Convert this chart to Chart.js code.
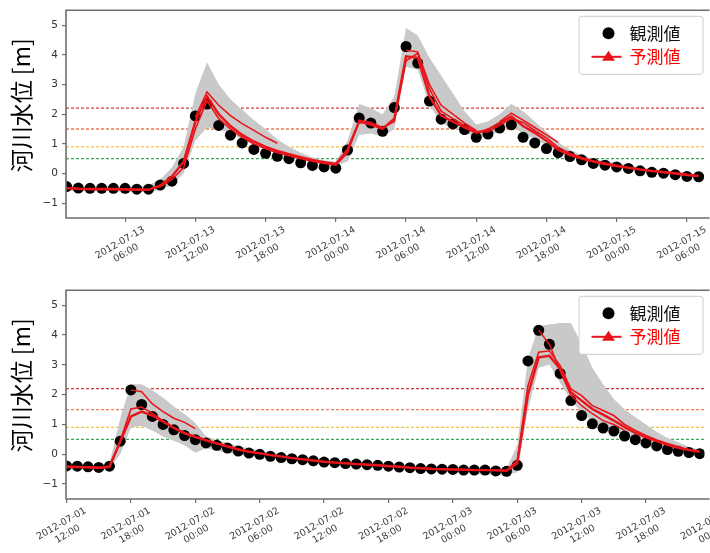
<!DOCTYPE html>
<html>
<head>
<meta charset="utf-8">
<script src="https://cdn.jsdelivr.net/npm/chart.js@4/dist/chart.umd.min.js"></script>
<style>
  html, body { margin: 0; padding: 0; background: #fff; overflow: hidden; }
  canvas { display: block; }
</style>
</head>
<body>
<canvas id="topChart" width="710" height="280"></canvas>
<canvas id="bottomChart" width="710" height="273"></canvas>
<script>
// 共通の目盛りと警戒水位
const yTickValues = [-1, 0, 1, 2, 3, 4, 5];
const levelValues = [2.2, 1.5, 0.9, 0.5];
const levelColors = ['#d43c3c', '#f07850', '#f5c040', '#3aaa5a'];

// ---- 上段: 2012-07-13 01:00 から1時間ごと (時間は 07-13 00:00 からの経過時間) ----
const topStart = 1;
const topObs = [
  -0.44, -0.49, -0.5, -0.5, -0.5, -0.5, -0.53, -0.53, -0.39, -0.26,
  0.34, 1.94, 2.34, 1.62, 1.29, 1.03, 0.81, 0.68, 0.58, 0.5,
  0.36, 0.27, 0.22, 0.18, 0.79, 1.87, 1.70, 1.42, 2.22, 4.28,
  3.72, 2.44, 1.83, 1.67, 1.48, 1.22, 1.33, 1.53, 1.64, 1.22,
  1.03, 0.84, 0.70, 0.57, 0.46, 0.34, 0.28, 0.22, 0.17, 0.09,
  0.04, 0.01, -0.04, -0.10, -0.11
];
const topFcA = [
  -0.5, -0.52, -0.53, -0.53, -0.53, -0.54, -0.55, -0.55, -0.4, -0.1,
  0.4, 1.75, 2.6, 2.0, 1.6, 1.3, 1.08, 0.9, 0.76, 0.65,
  0.55, 0.46, 0.38, 0.32, 0.8, 1.75, 1.65, 1.5, 1.85, 3.95,
  3.9, 2.6, 1.95, 1.75, 1.55, 1.37, 1.48, 1.7, 1.92, 1.6,
  1.37, 1.1, 0.8, 0.62, 0.5, 0.4, 0.32, 0.25, 0.19, 0.13,
  0.08, 0.04, 0.0, -0.05, -0.09
];
const topFcB = [
  -0.47, -0.5, -0.51, -0.51, -0.51, -0.52, -0.53, -0.54, -0.45, -0.2,
  0.2, 1.5, 2.45, 1.85, 1.5, 1.22, 1.0, 0.83, 0.7, 0.6,
  0.5, 0.41, 0.34, 0.28, 0.7, 1.8, 1.72, 1.55, 1.75, 3.8,
  4.05, 2.85, 2.1, 1.85, 1.62, 1.42, 1.4, 1.62, 1.85, 1.72,
  1.45, 1.2, 0.88, 0.68, 0.54, 0.43, 0.35, 0.28, 0.21, 0.15,
  0.1, 0.06, 0.02, -0.03, -0.07
];
// 途中から始まる予測 (開始インデックス付き)
const topFc1Start = 11;
const topFc1 = [1.9, 2.75, 2.3, 1.95, 1.68, 1.45, 1.22, 1.02];
const topFc2Start = 29;
const topFc2 = [4.15, 4.1, 3.0, 2.3, 2.0, 1.7, 1.45];
const topFc3Start = 37;
const topFc3 = [1.75, 2.03, 1.8, 1.55, 1.3, 1.05];
// アンサンブルの幅 (灰色)
const topBandHi = [
  -0.4, -0.42, -0.43, -0.43, -0.43, -0.45, -0.45, -0.4, -0.2, 0.2,
  0.9, 2.7, 3.75, 3.0, 2.5, 2.15, 1.8, 1.5, 1.15, 0.9,
  0.7, 0.55, 0.45, 0.4, 1.1, 2.35, 2.2, 2.0, 2.6, 4.9,
  4.65, 3.9, 3.3, 2.7, 2.1, 1.65, 1.75, 2.0, 2.35, 2.1,
  1.75, 1.4, 1.05, 0.8, 0.62, 0.5, 0.42, 0.35, 0.28, 0.2,
  0.15, 0.1, 0.06, 0.02, -0.03
];
const topBandLo = [
  -0.58, -0.6, -0.6, -0.6, -0.6, -0.62, -0.62, -0.62, -0.55, -0.4,
  0.0, 1.1, 1.55, 1.5, 1.35, 1.15, 0.95, 0.8, 0.68, 0.56,
  0.45, 0.36, 0.3, 0.25, 0.4, 1.3, 1.35, 1.25, 1.5, 3.6,
  3.5, 2.3, 1.7, 1.55, 1.4, 1.2, 1.25, 1.45, 1.6, 1.35,
  1.15, 0.95, 0.7, 0.56, 0.45, 0.35, 0.27, 0.2, 0.14, 0.08,
  0.03, -0.01, -0.05, -0.1, -0.13
];
const topTickHours = [6, 12, 18, 24, 30, 36, 42, 48, 54];
const topTickLabels = [
  ['2012-07-13', '06:00'], ['2012-07-13', '12:00'], ['2012-07-13', '18:00'],
  ['2012-07-14', '00:00'], ['2012-07-14', '06:00'], ['2012-07-14', '12:00'],
  ['2012-07-14', '18:00'], ['2012-07-15', '00:00'], ['2012-07-15', '06:00']
];

// ---- 下段: 2012-07-01 12:00 から1時間ごと (時間は 07-01 00:00 からの経過時間) ----
const btmStart = 12;
const btmObs = [
  -0.39, -0.4, -0.42, -0.44, -0.4, 0.44, 2.16, 1.67, 1.27, 1.0,
  0.82, 0.63, 0.49, 0.38, 0.3, 0.21, 0.11, 0.04, 0.0, -0.07,
  -0.11, -0.15, -0.18, -0.22, -0.26, -0.28, -0.31, -0.33, -0.35, -0.37,
  -0.4, -0.43, -0.45, -0.48, -0.49, -0.5, -0.51, -0.53, -0.53, -0.53,
  -0.56, -0.57, -0.37, 3.13, 4.16, 3.69, 2.71, 1.8, 1.3, 1.02,
  0.88, 0.78, 0.61, 0.49, 0.38, 0.28, 0.16, 0.1, 0.06, 0.02
];
const btmFcA = [
  -0.42, -0.43, -0.44, -0.46, -0.42, 0.42, 1.27, 1.43, 1.3, 1.09,
  0.88, 0.7, 0.58, 0.47, 0.36, 0.26, 0.16, 0.08, 0.03, -0.03,
  -0.08, -0.13, -0.17, -0.21, -0.25, -0.28, -0.3, -0.33, -0.35, -0.37,
  -0.4, -0.42, -0.45, -0.47, -0.49, -0.5, -0.51, -0.52, -0.53, -0.53,
  -0.54, -0.55, -0.3, 2.0, 3.25, 3.3, 2.86, 2.08, 1.8, 1.52,
  1.33, 1.13, 0.91, 0.72, 0.57, 0.44, 0.32, 0.22, 0.14, 0.08
];
const btmFcB = [
  -0.4, -0.41, -0.42, -0.44, -0.4, 0.45, 1.52, 1.58, 1.37, 1.12,
  0.9, 0.72, 0.6, 0.48, 0.38, 0.28, 0.18, 0.1, 0.04, -0.02,
  -0.07, -0.12, -0.16, -0.2, -0.24, -0.27, -0.29, -0.32, -0.34, -0.36,
  -0.39, -0.41, -0.44, -0.46, -0.48, -0.49, -0.5, -0.51, -0.52, -0.52,
  -0.53, -0.54, -0.2, 2.3, 3.42, 3.47, 2.97, 2.19, 1.97, 1.63,
  1.47, 1.3, 1.0, 0.8, 0.63, 0.48, 0.36, 0.25, 0.16, 0.1
];
const btmFc1Start = 6;
const btmFc1 = [2.16, 2.1, 1.69, 1.43, 1.21, 1.07, 0.86];
const btmFc2Start = 44;
const btmFc2 = [4.16, 3.69, 2.8, 1.97, 1.63, 1.36, 1.13, 1.0, 0.8];
const btmBandHi = [
  -0.33, -0.33, -0.35, -0.37, -0.3, 1.2, 2.35, 2.35, 2.15, 1.9,
  1.6, 1.35, 1.05, 0.6, 0.48, 0.38, 0.28, 0.2, 0.12, 0.06,
  0.0, -0.06, -0.1, -0.14, -0.18, -0.21, -0.24, -0.26, -0.28, -0.3,
  -0.33, -0.35, -0.38, -0.4, -0.42, -0.43, -0.44, -0.45, -0.46, -0.46,
  -0.48, -0.48, 0.3, 3.2, 4.3, 4.35, 4.4, 4.4, 3.7, 2.9,
  2.35, 1.85, 1.5, 1.25, 1.0, 0.75, 0.55, 0.4, 0.25, 0.15
];
const btmBandLo = [
  -0.5, -0.5, -0.5, -0.52, -0.48, 0.0, 0.9, 0.95, 0.8, 0.6,
  0.45, 0.3, 0.05, 0.2, 0.12, 0.05, -0.02, -0.06, -0.1, -0.14,
  -0.16, -0.2, -0.24, -0.28, -0.32, -0.35, -0.37, -0.4, -0.42, -0.44,
  -0.47, -0.49, -0.52, -0.54, -0.56, -0.58, -0.6, -0.62, -0.65, -0.68,
  -0.7, -0.7, -0.6, 1.5, 2.9, 3.0, 2.4, 1.8, 1.4, 1.1,
  0.95, 0.8, 0.62, 0.5, 0.38, 0.28, 0.18, 0.1, 0.04, 0.0
];
const btmTickHours = [12, 18, 24, 30, 36, 42, 48, 54, 60, 66, 72];
const btmTickLabels = [
  ['2012-07-01', '12:00'], ['2012-07-01', '18:00'], ['2012-07-02', '00:00'],
  ['2012-07-02', '06:00'], ['2012-07-02', '12:00'], ['2012-07-02', '18:00'],
  ['2012-07-03', '00:00'], ['2012-07-03', '06:00'], ['2012-07-03', '12:00'],
  ['2012-07-03', '18:00'], ['2012-07-04', '00:00']
];

const RED = '#e8141a';
const FRAME = '#6e6e6e';

// 値の配列を {x, y} に変換
function toPoints(values, startHour) {
  return values.map((v, i) => ({ x: startHour + i, y: v }));
}

// 枠線・x軸ラベル・y軸タイトル・凡例を描く
const decorPlugin = {
  id: 'decor',
  afterDraw(chart, args, o) {
    const ctx = chart.ctx;
    const a = chart.chartArea;
    const xs = chart.scales.x;
    ctx.save();

    // 枠 (右端は画面外)
    ctx.strokeStyle = FRAME;
    ctx.lineWidth = 1.6;
    ctx.beginPath();
    ctx.moveTo(a.right + 5, a.top);
    ctx.lineTo(a.left, a.top);
    ctx.lineTo(a.left, a.bottom);
    ctx.lineTo(a.right + 5, a.bottom);
    ctx.stroke();

    // x軸ラベル (30度回転, 中央揃え)
    ctx.fillStyle = '#3a3a3a';
    ctx.font = '9.5px "DejaVu Sans"';
    ctx.textAlign = 'center';
    ctx.textBaseline = 'middle';
    o.tickHours.forEach((h, k) => {
      const px = xs.getPixelForValue(h);
      ctx.save();
      ctx.translate(px - 2, a.bottom + 30);
      ctx.rotate(-Math.PI / 6);
      ctx.fillText(o.tickLabels[k][0], 0, -6);
      ctx.fillText(o.tickLabels[k][1], 0, 6);
      ctx.restore();
    });

    // y軸タイトル
    ctx.save();
    ctx.translate(21, a.top + 95);
    ctx.rotate(-Math.PI / 2);
    ctx.fillStyle = '#000';
    ctx.font = '23px "Noto Sans CJK JP"';
    ctx.textAlign = 'center';
    ctx.fillText('河川水位 [m]', 0, 0);
    ctx.restore();

    // 凡例
    const lx = a.right - 126, ly = a.top + 5.5, lw = 124, lh = 58;
    ctx.fillStyle = '#fff';
    ctx.strokeStyle = '#cccccc';
    ctx.lineWidth = 1;
    ctx.beginPath();
    ctx.roundRect(lx + 0.5, ly + 0.5, lw, lh, 3);
    ctx.fill();
    ctx.stroke();

    ctx.fillStyle = '#000';
    ctx.beginPath();
    ctx.arc(lx + 30, ly + 17.5, 6, 0, Math.PI * 2);
    ctx.fill();

    ctx.strokeStyle = RED;
    ctx.lineWidth = 2;
    ctx.beginPath();
    ctx.moveTo(lx + 13, ly + 41);
    ctx.lineTo(lx + 43, ly + 41);
    ctx.stroke();
    ctx.fillStyle = RED;
    ctx.beginPath();
    ctx.moveTo(lx + 30, ly + 35);
    ctx.lineTo(lx + 36.5, ly + 45);
    ctx.lineTo(lx + 23.5, ly + 45);
    ctx.closePath();
    ctx.fill();

    ctx.font = '17px "Noto Sans CJK JP"';
    ctx.textAlign = 'left';
    ctx.textBaseline = 'middle';
    ctx.fillStyle = '#111';
    ctx.fillText('観測値', lx + 51, ly + 18);
    ctx.fillStyle = '#ff0000';
    ctx.fillText('予測値', lx + 51, ly + 41);

    ctx.restore();
  }
};

function buildChart(canvasId, d) {
  const datasets = [];

  // 警戒水位の破線
  levelValues.forEach((lv, k) => {
    datasets.push({
      data: [{ x: d.xMin, y: lv }, { x: d.xMax, y: lv }],
      borderColor: levelColors[k],
      borderWidth: 1.3,
      borderDash: [3, 2],
      pointRadius: 0,
      order: 10
    });
  });

  // 灰色の範囲
  datasets.push({
    data: toPoints(d.bandHi, d.start),
    borderWidth: 0,
    pointRadius: 0,
    fill: false,
    order: 8
  });
  datasets.push({
    data: toPoints(d.bandLo, d.start),
    borderWidth: 0,
    pointRadius: 0,
    backgroundColor: '#c9c9c9',
    fill: '-1',
    order: 8
  });

  // 観測値
  datasets.push({
    data: toPoints(d.obs, d.start),
    showLine: false,
    pointRadius: 5.5,
    pointBackgroundColor: '#000',
    pointBorderWidth: 0,
    order: 5
  });

  // 予測値
  datasets.push({
    data: toPoints(d.fcA, d.start),
    borderColor: RED, borderWidth: 2.4, pointRadius: 0, order: 1
  });
  datasets.push({
    data: toPoints(d.fcB, d.start),
    borderColor: RED, borderWidth: 1.6, pointRadius: 0, order: 1
  });
  d.partials.forEach(p => {
    datasets.push({
      data: toPoints(p.values, d.start + p.offset),
      borderColor: RED, borderWidth: 1.5, pointRadius: 0, order: 1
    });
  });

  return new Chart(document.getElementById(canvasId), {
    type: 'line',
    data: { datasets: datasets },
    options: {
      responsive: false,
      animation: false,
      layout: { padding: { top: d.padTop, right: 0, left: 0, bottom: 0 } },
      plugins: {
        legend: { display: false },
        tooltip: { enabled: false },
        decor: { tickHours: d.tickHours, tickLabels: d.tickLabels }
      },
      scales: {
        x: {
          type: 'linear',
          min: d.xMin,
          max: d.xMax,
          afterBuildTicks: s => {
            s.ticks = d.tickHours.filter(h => h <= d.xMax).map(h => ({ value: h }));
          },
          afterFit: s => { s.height = d.axisH; },
          ticks: { display: false },
          grid: { drawOnChartArea: false, drawTicks: true, tickLength: 4, color: FRAME, lineWidth: 1.2 },
          border: { display: false }
        },
        y: {
          min: -1.5,
          max: 5.5,
          afterBuildTicks: s => {
            s.ticks = yTickValues.map(v => ({ value: v }));
          },
          afterFit: s => { s.width = 66; },
          ticks: {
            padding: 4,
            color: '#333',
            font: { family: '"DejaVu Sans"', size: 10.5 },
            callback: v => (v < 0 ? '\u2212' + Math.abs(v) : String(v))
          },
          grid: { drawOnChartArea: false, drawTicks: true, tickLength: 4, color: FRAME, lineWidth: 1.2 },
          border: { display: false }
        }
      }
    },
    plugins: [decorPlugin]
  });
}

buildChart('topChart', {
  start: topStart,
  obs: topObs, fcA: topFcA, fcB: topFcB,
  partials: [
    { offset: topFc1Start, values: topFc1 },
    { offset: topFc2Start, values: topFc2 },
    { offset: topFc3Start, values: topFc3 }
  ],
  bandHi: topBandHi, bandLo: topBandLo,
  xMin: 0.95, xMax: 55.5,
  tickHours: topTickHours, tickLabels: topTickLabels,
  padTop: 7, axisH: 62
});

buildChart('bottomChart', {
  start: btmStart,
  obs: btmObs, fcA: btmFcA, fcB: btmFcB,
  partials: [
    { offset: btmFc1Start, values: btmFc1 },
    { offset: btmFc2Start, values: btmFc2 }
  ],
  bandHi: btmBandHi, bandLo: btmBandLo,
  xMin: 11.95, xMax: 71.45,
  tickHours: btmTickHours, tickLabels: btmTickLabels,
  padTop: 8, axisH: 54
});
</script>
</body>
</html>
